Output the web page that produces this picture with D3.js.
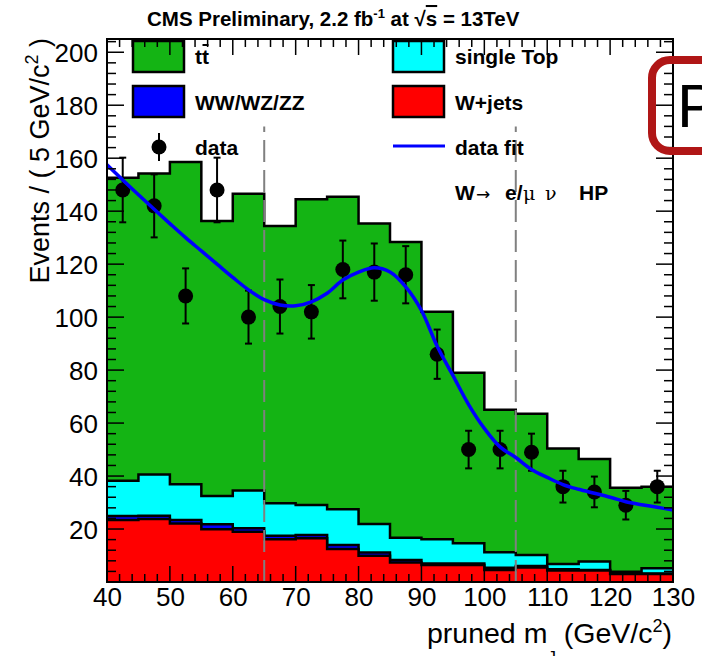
<!DOCTYPE html>
<html>
<head>
<meta charset="utf-8">
<script src="https://cdn.jsdelivr.net/npm/d3@7/dist/d3.min.js"></script>
<style>
  body { margin: 0; background: #fff; }
  svg { display: block; }
  text { font-family: "Liberation Sans", Arial, Helvetica, sans-serif; }
</style>
</head>
<body>
<svg id="chart" width="702" height="656"></svg>
<script>
// Pruned jet mass, 5 GeV bins from 40 to 130 GeV
const binLow = [40, 45, 50, 55, 60, 65, 70, 75, 80, 85, 90, 95, 100, 105, 110, 115, 120, 125];
const binWidth = 5;

// Simulated backgrounds (events per bin), stacked bottom to top
const wjets     = [23.4, 23.8, 22.1, 19.9, 19.0, 16.1, 16.5, 12.5, 9.9, 7.4, 6.4, 6.4, 4.5, 5.5, 4.3, 4.3, 3.0, 3.0];
const diboson   = [1.5, 1.2, 1.3, 1.9, 1.3, 1.4, 1.2, 1.5, 1.2, 0.9, 0.6, 0.6, 0.9, 0.5, 0.5, 0.2, 0.2, 0.2];
const singleTop = [13.3, 15.6, 13.5, 10.7, 14.2, 12.2, 11.4, 13.5, 10.8, 8.4, 9.1, 7.6, 5.8, 4.2, 2.0, 3.2, 0.7, 2.0];
const ttbar     = [114.4, 113.6, 121.7, 103.8, 112.1, 104.7, 115.4, 117.9, 113.4, 111.7, 85.9, 64.4, 53.8, 53.3, 43.6, 38.7, 31.7, 30.8];

// Observed data with statistical uncertainties
const dataCounts = [148, 142, 108, 148, 100, 104, 102, 118, 117, 116, 86, 50, 50, 49, 36, 34, 29, 36];
const dataErrors = [12.2, 11.9, 10.4, 12.2, 10.0, 10.2, 10.1, 10.9, 10.8, 10.8, 9.3, 7.1, 7.1, 7.0, 6.0, 5.8, 5.4, 6.0];

// Fit to data, sampled along the mass axis
const fitMass   = [40, 42.5, 45, 47.5, 50, 52.5, 55, 57.5, 60, 62.5, 65, 67.5, 70, 72.5, 75, 77.5, 80, 82.5, 85, 87.5, 90, 92.5, 95, 97.5, 100, 102.5, 105, 107.5, 110, 112.5, 115, 117.5, 120, 122.5, 125, 127.5, 130];
const fitEvents = [157.5, 151.8, 146.2, 140.7, 135.3, 130, 125, 120, 115, 110.3, 106.6, 104.6, 104.3, 105.8, 109, 114, 117, 118.6, 117, 111.4, 102.5, 89, 78, 67, 58, 51, 47, 42.5, 39.5, 36.8, 35, 33.5, 32, 30.3, 29.2, 28.2, 27.2];

// Signal-region boundaries
const windowEdges = [65, 105];

// Axis ticks
const xMajorTicks = [40, 50, 60, 70, 80, 90, 100, 110, 120, 130];
const yMajorTicks = [20, 40, 60, 80, 100, 120, 140, 160, 180, 200];

const layerKeys   = ["wjets", "diboson", "singleTop", "ttbar"];
const layerColors = { wjets: "#ff0000", diboson: "#0000ff", singleTop: "#00ffff", ttbar: "#14b414" };

const svg = d3.select("#chart");
const frameL = 107, frameR = 673, frameT = 39, frameB = 582;

const x = d3.scaleLinear().domain([40, 130]).range([frameL, frameR]);
const y = d3.scaleLinear().domain([0, 205]).range([frameB, frameT]);

// ---- stacked histograms ----
const rows = binLow.map((lo, i) => ({
  lo, wjets: wjets[i], diboson: diboson[i], singleTop: singleTop[i], ttbar: ttbar[i]
}));
const stacked = d3.stack().keys(layerKeys)(rows);

const plot = svg.append("g");
plot.append("clipPath").attr("id", "frameClip")
  .append("rect").attr("x", frameL).attr("y", frameT).attr("width", frameR - frameL).attr("height", frameB - frameT);

const area = d3.area()
  .x(d => x(d.lo)).y0(d => y(d.v0)).y1(d => y(d.v1))
  .curve(d3.curveStepAfter);
const topLine = d3.line()
  .x(d => x(d.lo)).y(d => y(d.v1))
  .curve(d3.curveStepAfter);

const layerPts = stacked.map(s => {
  const pts = s.map(d => ({ lo: d.data.lo, v0: d[0], v1: d[1] }));
  const last = pts[pts.length - 1];
  pts.push({ lo: last.lo + binWidth, v0: last.v0, v1: last.v1 });
  return { key: s.key, pts };
});

const hist = plot.append("g").attr("clip-path", "url(#frameClip)");
// largest cumulative first, as in a stack
layerPts.slice().reverse().forEach(l => {
  hist.append("path").attr("d", area(l.pts.map(p => ({ lo: p.lo, v0: 0, v1: p.v1 }))))
    .attr("fill", layerColors[l.key]);
  hist.append("path").attr("d", topLine(l.pts))
    .attr("fill", "none").attr("stroke", "#000").attr("stroke-width", 2.5);
});

// ---- window boundaries ----
windowEdges.forEach(m => {
  plot.append("line")
    .attr("x1", x(m)).attr("x2", x(m)).attr("y1", y(0)).attr("y2", y(172))
    .attr("stroke", "#808080").attr("stroke-width", 2).attr("stroke-dasharray", "22,8");
});

// ---- data points ----
const dataG = plot.append("g");
binLow.forEach((lo, i) => {
  const cx = x(lo + binWidth / 2);
  const yv = dataCounts[i], e = dataErrors[i];
  dataG.append("line").attr("x1", cx).attr("x2", cx).attr("y1", y(yv - e)).attr("y2", y(yv + e))
    .attr("stroke", "#000").attr("stroke-width", 2);
  [yv - e, yv + e].forEach(v => {
    dataG.append("line").attr("x1", cx - 3.5).attr("x2", cx + 3.5).attr("y1", y(v)).attr("y2", y(v))
      .attr("stroke", "#000").attr("stroke-width", 2);
  });
  dataG.append("circle").attr("cx", cx).attr("cy", y(yv)).attr("r", 7.5).attr("fill", "#000");
});

// ---- fit curve ----
const fitLine = d3.line().x(d => x(d[0])).y(d => y(d[1])).curve(d3.curveCatmullRom);
plot.append("path")
  .attr("clip-path", "url(#frameClip)")
  .attr("d", fitLine(fitMass.map((m, i) => [m, fitEvents[i]])))
  .attr("fill", "none").attr("stroke", "#0000ff").attr("stroke-width", 3.5);

// ---- legend ----
const leg = svg.append("g").attr("font-weight", "bold").attr("font-size", 21);
function legBox(bx, by, color) {
  leg.append("rect").attr("x", bx).attr("y", by).attr("width", 51).attr("height", 31)
    .attr("fill", color).attr("stroke", "#000").attr("stroke-width", 2.5);
}
legBox(133, 41, layerColors.ttbar);
legBox(133, 86, layerColors.diboson);
legBox(393, 41, layerColors.singleTop);
legBox(393, 86, layerColors.wjets);
const ttLabel = leg.append("text").attr("x", 195).attr("y", 64).text("tt");
// bar over the anti-top
{
  const node = ttLabel.node();
  const x0 = 195 + node.getSubStringLength(0, 1);
  const w = node.getSubStringLength(1, 1);
  leg.append("line").attr("x1", x0 + 0.5).attr("x2", x0 + w - 0.5).attr("y1", 45).attr("y2", 45)
    .attr("stroke", "#000").attr("stroke-width", 2);
}
leg.append("text").attr("x", 195).attr("y", 110).text("WW/WZ/ZZ");
leg.append("text").attr("x", 195).attr("y", 155).text("data");
leg.append("text").attr("x", 455).attr("y", 64).text("single Top");
leg.append("text").attr("x", 455).attr("y", 110).text("W+jets");
leg.append("text").attr("x", 455).attr("y", 155).text("data fit");
leg.append("line").attr("x1", 159).attr("x2", 159).attr("y1", 133).attr("y2", 161)
  .attr("stroke", "#000").attr("stroke-width", 2);
leg.append("circle").attr("cx", 159).attr("cy", 147).attr("r", 7.5).attr("fill", "#000");
leg.append("line").attr("x1", 393).attr("x2", 445).attr("y1", 146).attr("y2", 146)
  .attr("stroke", "#0000ff").attr("stroke-width", 3);

const chan = leg.append("text").attr("y", 200);
chan.append("tspan").attr("x", 455).text("W");
chan.append("tspan").attr("x", 476).attr("font-weight", "normal").attr("font-family", "DejaVu Sans, sans-serif").attr("font-size", 17).text("\u2192");
chan.append("tspan").attr("x", 505).text("e/");
chan.append("tspan").attr("x", 523).attr("font-weight", "normal").attr("font-family", "DejaVu Serif, serif").attr("font-size", 19).text("\u03bc");
chan.append("tspan").attr("x", 545).attr("font-weight", "normal").attr("font-family", "DejaVu Serif, serif").attr("font-size", 19).text("\u03bd");
chan.append("tspan").attr("x", 579).text("HP");

// ---- frame and ticks ----
const axes = svg.append("g");
axes.append("rect").attr("x", frameL).attr("y", frameT).attr("width", frameR - frameL).attr("height", frameB - frameT)
  .attr("fill", "none").attr("stroke", "#000").attr("stroke-width", 2);

const xMinor = d3.range(40, 130.001, 2);
const yMinor = d3.range(0, 205, 4);
function tick(x1, y1, x2, y2) {
  axes.append("line").attr("x1", x1).attr("y1", y1).attr("x2", x2).attr("y2", y2)
    .attr("stroke", "#000").attr("stroke-width", 1.5);
}
xMinor.forEach(m => {
  const major = xMajorTicks.includes(m);
  const len = major ? 16 : 8;
  tick(x(m), frameB, x(m), frameB - len);
  tick(x(m), frameT, x(m), frameT + len);
});
yMinor.forEach(v => {
  const major = v % 20 === 0;
  const len = major ? 17 : 9;
  tick(frameL, y(v), frameL + len, y(v));
  tick(frameR, y(v), frameR - len, y(v));
});

// tick labels
const xAxis = d3.axisBottom(x).tickValues(xMajorTicks).tickSize(0).tickPadding(0);
const gx = axes.append("g").attr("transform", `translate(0,${frameB + 6})`).call(xAxis);
gx.select(".domain").remove();
gx.selectAll("text").attr("font-size", 26).attr("dy", "0.71em").attr("fill", "#000")
  .attr("font-family", "Liberation Sans, Arial, sans-serif");

const yAxis = d3.axisLeft(y).tickValues(yMajorTicks).tickSize(0).tickPadding(0);
const gy = axes.append("g").attr("transform", `translate(${frameL - 9},0)`).call(yAxis);
gy.select(".domain").remove();
gy.selectAll("text").attr("font-size", 26).attr("dy", "0.36em").attr("fill", "#000")
  .attr("font-family", "Liberation Sans, Arial, sans-serif");

// axis titles
const yTitle = svg.append("text").attr("transform", `translate(49,38) rotate(-90)`)
  .attr("text-anchor", "end").attr("font-size", 27);
yTitle.append("tspan").text("Events / ( 5 GeV/c");
yTitle.append("tspan").attr("font-size", 18).attr("dy", -11).text("2");
yTitle.append("tspan").attr("dy", 11).text(" )");

const xTitle = svg.append("text").attr("x", 672).attr("y", 643)
  .attr("text-anchor", "end").attr("font-size", 28.5);
xTitle.append("tspan").text("pruned m");
xTitle.append("tspan").attr("font-size", 17).attr("dy", 20).text("J");
xTitle.append("tspan").attr("dy", -20).text(" (GeV/c");
xTitle.append("tspan").attr("font-size", 18).attr("dy", -11).text("2");
xTitle.append("tspan").attr("dy", 11).text(")");

// title
const title = svg.append("text").attr("x", 147).attr("y", 26)
  .attr("font-size", 20.5).attr("font-weight", "bold");
title.append("tspan").text("CMS Preliminary, 2.2 fb");
title.append("tspan").attr("font-size", 13).attr("dy", -8).text("-1");
title.append("tspan").attr("dy", 8).text(" at  \u221a");
title.append("tspan").style("text-decoration", "overline").text("s");
title.append("tspan").text(" = 13TeV");

// ---- callout box at right ----
svg.append("rect").attr("x", 652).attr("y", 60).attr("width", 90).attr("height", 91).attr("rx", 18)
  .attr("fill", "none").attr("stroke", "#b01616").attr("stroke-width", 8);
svg.append("text").attr("x", 677).attr("y", 127).attr("font-size", 62)
  .attr("font-family", "Open Sans, Noto Sans, sans-serif").attr("fill", "#000").text("P");
</script>
</body>
</html>
